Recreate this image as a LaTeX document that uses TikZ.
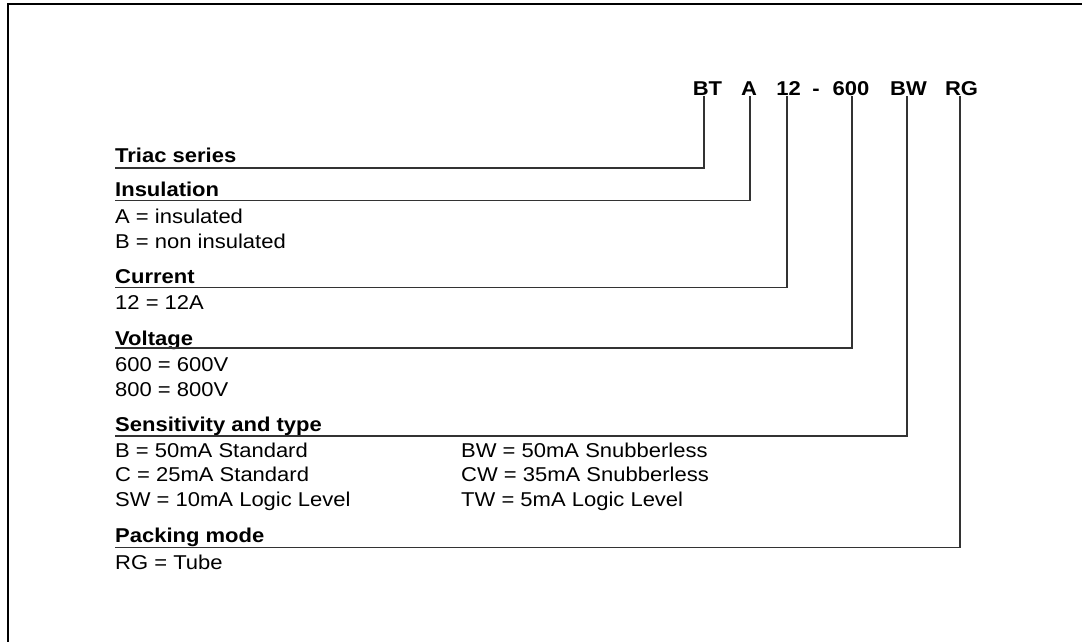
\documentclass[tikz,border=0pt]{standalone}
\usepackage{fontspec}
\setmainfont{Liberation Sans}[FakeStretch=1.10]
\begin{document}
\begin{tikzpicture}[x=1pt,y=-1pt,
  txt/.style={inner sep=0pt, anchor=base west, font=\fontsize{20}{24}\selectfont},
  head/.style={inner sep=0pt, anchor=base west, font=\fontsize{20}{24}\selectfont\bfseries},
  code/.style={inner sep=0pt, anchor=base, font=\fontsize{20}{24}\selectfont\bfseries},
  conn/.style={draw=black!80, line width=1.3pt},
  frameline/.style={draw=black, line width=2.5pt}]
\useasboundingbox (0,0) rectangle (1082,642);
\draw[frameline] (8,660) -- (8,4) -- (1100,4);

% code
\node[code] (bt) at (707.5,95.7) {BT};
\node[code] (a) at (749,95.7) {A};
\node[code] (c12) at (788.5,95.7) {12};
\node[code] (dash) at (816,95.7) {-};
\node[code] (c600) at (851,95.7) {600};
\node[code] (bw) at (908.5,95.7) {BW};
\node[code] (rg) at (961.5,95.7) {RG};

% headings and entries
\node[head] (h1) at (115,162.5) {Triac series};
\node[head] (h2) at (115,196.7) {Insulation};
\node[txt]  (t21) at (115,223.3) {A = insulated};
\node[txt]  (t22) at (115,248.5) {B = non insulated};
\node[head] (h3) at (115,283.5) {Current};
\node[txt]  (t31) at (115,309.5) {12 = 12A};
\node[head] (h4) at (115,345) {Voltage};
\node[txt]  (t41) at (115,371.5) {600 = 600V};
\node[txt]  (t42) at (115,396) {800 = 800V};
\node[head] (h5) at (115,431.5) {Sensitivity and type};
\node[txt]  (t51) at (115,457) {B = 50mA Standard};
\node[txt]  (t52) at (115,481.5) {C = 25mA Standard};
\node[txt]  (t53) at (115,506) {SW = 10mA Logic Level};
\node[txt]  (t54) at (461,457) {BW = 50mA Snubberless};
\node[txt]  (t55) at (461,481.5) {CW = 35mA Snubberless};
\node[txt]  (t56) at (461,506) {TW = 5mA Logic Level};
\node[head] (h6) at (115,542.5) {Packing mode};
\node[txt]  (t61) at (115,569) {RG = Tube};

% line starts
\coordinate (l1) at (115,168);
\coordinate (l2) at (115,200.5);
\coordinate (l3) at (115,287.5);
\coordinate (l4) at (115,348);
\coordinate (l5) at (115,436);
\coordinate (l6) at (115,547.5);

\draw[conn] (l1) -| ([xshift=-3.5pt]bt.south);
\draw[conn] (l2) -| ([xshift=1pt]a.south);
\draw[conn] (l3) -| ([xshift=-1.5pt]c12.south);
\draw[conn] (l4) -| ([xshift=1pt]c600.south);
\draw[conn] (l5) -| ([xshift=-1.5pt]bw.south);
\draw[conn] (l6) -| ([xshift=-1.5pt]rg.south);
\end{tikzpicture}
\end{document}
